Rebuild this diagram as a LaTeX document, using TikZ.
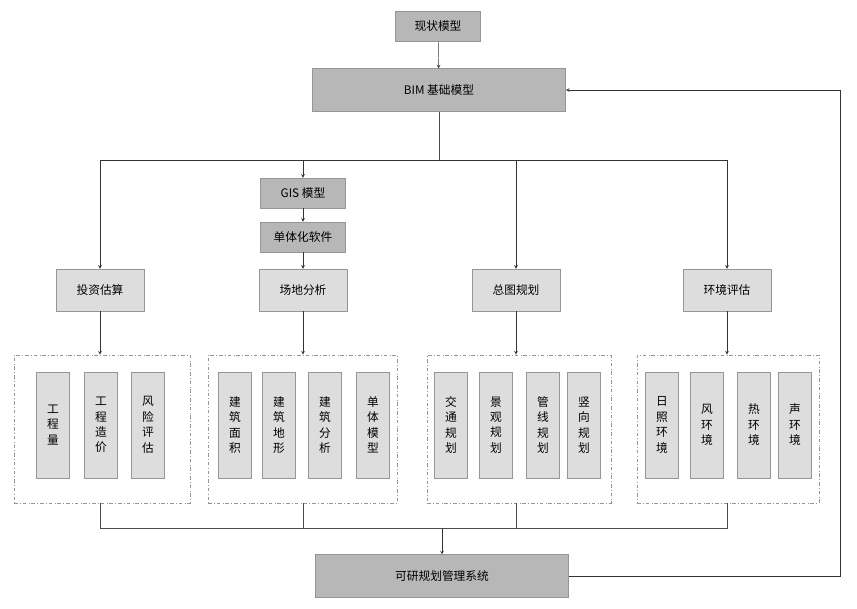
\documentclass[tikz,border=0pt]{standalone}
\usepackage{fontspec}
\setmainfont{Noto Sans CJK SC}
\usetikzlibrary{arrows}
\definecolor{darkbox}{RGB}{183,183,183}
\definecolor{lightbox}{RGB}{221,221,221}
\definecolor{edge}{RGB}{150,150,150}
\tikzstyle{model} = [rectangle, minimum width=2.55cm, minimum height=0.9cm, text centered, draw=edge, fill=darkbox, inner sep=1pt]
\tikzstyle{bim} = [rectangle, minimum width=7.6cm, minimum height=1.28cm, text centered, draw=edge, fill=darkbox]
\tikzstyle{cate} = [rectangle, minimum width=2.64cm, minimum height=1.26cm, text centered, draw=edge, fill=lightbox]
\tikzstyle{item} = [rectangle, minimum width=1cm, minimum height=3.18cm, align=center, draw=edge, fill=lightbox, inner sep=1pt, font=\linespread{1.1}\selectfont]
\tikzstyle{group} = [rectangle, minimum height=4.44cm, draw=edge, dash dot, thick]
\tikzstyle{arrow} = [->,>=stealth, draw=black!80]
\tikzstyle{line} = [draw=black!70]

\begin{document}
\begin{tikzpicture}[x=0.03cm, y=-0.03cm]
	\useasboundingbox (0,0) rectangle (857,609);
	\node (now) [model] at (438,26) {现状模型};
	\node (bim) [bim] at (439,90) {BIM 基础模型};
	\node (gis) [model] at (303,193) {GIS 模型};
	\node (soft) [model] at (303,237) {单体化软件};
	\node (invest) [cate] at (100,290) {投资估算};
	\node (site) [cate] at (303,290) {场地分析};
	\node (plan) [cate] at (516,290) {总图规划};
	\node (env) [cate] at (727,290) {环境评估};
	\node (sys) [bim] at (442,576) {可研规划管理系统};
	
	% groups
	\node (g1) [group, minimum width=5.28cm] at (102,429) {};
	\node (g2) [group, minimum width=5.67cm] at (302.5,429) {};
	\node (g3) [group, minimum width=5.52cm] at (519,429) {};
	\node (g4) [group, minimum width=5.46cm] at (728,429) {};
	
	\node (a1) [item] at (53,425) {工\\程\\量};
	\node (a2) [item] at (101,425) {工\\程\\造\\价};
	\node (a3) [item] at (148,425) {风\\险\\评\\估};
	\node (b1) [item] at (235,425) {建\\筑\\面\\积};
	\node (b2) [item] at (279,425) {建\\筑\\地\\形};
	\node (b3) [item] at (325,425) {建\\筑\\分\\析};
	\node (b4) [item] at (373,425) {单\\体\\模\\型};
	\node (c1) [item] at (451,425) {交\\通\\规\\划};
	\node (c2) [item] at (496,425) {景\\观\\规\\划};
	\node (c3) [item] at (543,425) {管\\线\\规\\划};
	\node (c4) [item] at (584,425) {竖\\向\\规\\划};
	\node (d1) [item] at (662,425) {日\\照\\环\\境};
	\node (d2) [item] at (707,425) {风\\环\\境};
	\node (d3) [item] at (754,425) {热\\环\\境};
	\node (d4) [item] at (795,425) {声\\环\\境};
	
	\coordinate (split) at (439,160);
	\coordinate (join) at (442,528);
	\coordinate (back) at (840,90);
	
	\draw [arrow](now) -- (bim);
	\draw [line](bim) -- (split);
	\draw [arrow](split) -| (invest);
	\draw [arrow](split) -| (gis);
	\draw [arrow](split) -| (plan);
	\draw [arrow](split) -| (env);
	\draw [arrow](gis) -- (soft);
	\draw [arrow](soft) -- (site);
	\draw [arrow](invest) -- (invest |- g1.north);
	\draw [arrow](site) -- (site |- g2.north);
	\draw [arrow](plan) -- (plan |- g3.north);
	\draw [arrow](env) -- (env |- g4.north);
	
	\draw [line](invest |- g1.south) |- (join);
	\draw [line](site |- g2.south) |- (join);
	\draw [line](plan |- g3.south) |- (join);
	\draw [line](env |- g4.south) |- (join);
	\draw [arrow](join) -- (sys);
	\draw [arrow](sys) -| (back) -- (bim);
\end{tikzpicture}
\end{document}
